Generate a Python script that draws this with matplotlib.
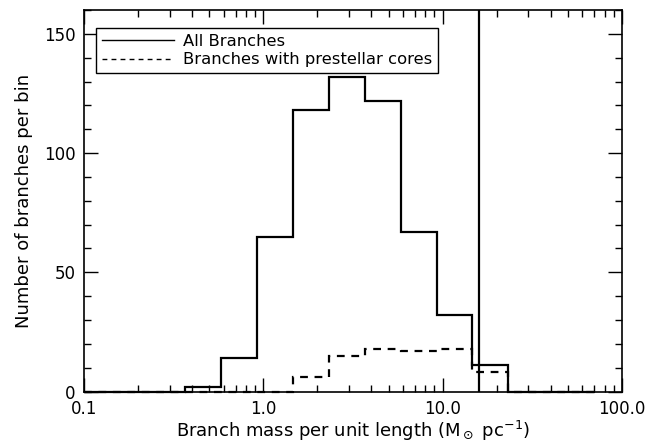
import matplotlib
matplotlib.use("Agg")
import matplotlib.pyplot as plt

# bin edges (M_sun / pc), 0.2 dex wide
EDGES = [0.1, 0.147, 0.232, 0.368, 0.583, 0.925, 1.466, 2.32, 3.68,
         5.83, 9.25, 14.66, 23.2, 36.8, 58.3, 70.8]
ALL_COUNTS = [0, 0, 0, 2, 14, 65, 118, 132, 122, 67, 32, 11, 0, 0, 0]
CORE_COUNTS = [0, 0, 0, 0, 0, 0, 6, 15, 18, 17, 18, 8, 0, 0, 0]
M_LINE_CRIT = 16.0

XTICKS = [0.1, 1.0, 10.0, 100.0]
XTICK_LABELS = ["0.1", "1.0", "10.0", "100.0"]
YTICKS = [0, 50, 100, 150]

plt.rcParams["font.family"] = "DejaVu Sans"

fig = plt.figure(figsize=(6.65, 4.48), dpi=100)
ax = fig.add_axes([0.1263, 0.1261, 0.809, 0.8516])

ax.stairs(ALL_COUNTS, EDGES, color="black", lw=1.6, clip_on=False,
          label="All Branches")
ax.stairs(CORE_COUNTS, EDGES, color="black", lw=1.6, clip_on=False,
          linestyle=(0, (3.5, 3)), label="Branches with prestellar cores")
ax.axvline(M_LINE_CRIT, color="black", lw=1.6)

ax.set_xscale("log")
ax.set_xlim(0.1, 100)
ax.set_ylim(0, 160)
ax.set_xticks(XTICKS)
ax.set_xticklabels(XTICK_LABELS)
ax.set_yticks(YTICKS)
ax.set_yticks(range(0, 161, 10), minor=True)

ax.tick_params(which="both", direction="in", top=True, right=True,
               labelsize=12, pad=6)
ax.tick_params(which="major", length=10, width=1)
ax.tick_params(which="minor", length=5, width=1)
for s in ax.spines.values():
    s.set_linewidth(1.2)

ax.set_xlabel(r"Branch mass per unit length (M$_\odot$ pc$^{-1}$)",
              fontsize=13, labelpad=1)
ax.set_ylabel("Number of branches per bin", fontsize=13, labelpad=8)

leg = ax.legend(loc="upper left", bbox_to_anchor=(0.022, 0.953),
                borderaxespad=0, fancybox=False, framealpha=1,
                edgecolor="black", fontsize=11.8, handlelength=4.4,
                handletextpad=0.55, labelspacing=0.22, borderpad=0.35)
leg.get_frame().set_linewidth(1.0)
for h in leg.get_lines():
    h.set_linewidth(1.0)

fig.savefig("out.png", dpi=100, facecolor="white")
